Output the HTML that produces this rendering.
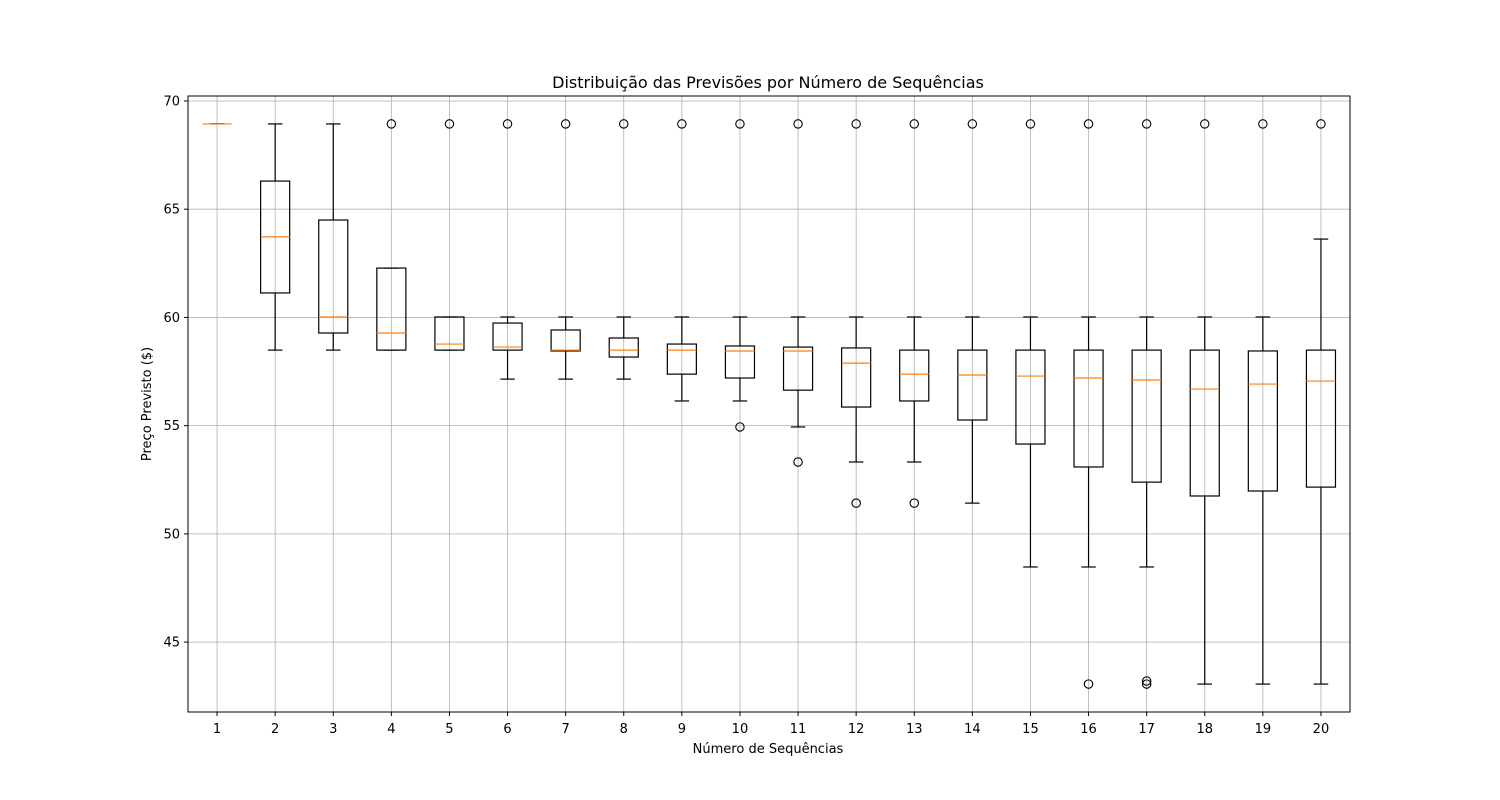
<!DOCTYPE html>
<html><head><meta charset="utf-8"><style>
html,body{margin:0;padding:0;background:#fff;}
svg{display:block;font-family:"DejaVu Sans","Liberation Sans",sans-serif;}
</style></head><body>
<svg id="chart" width="1500" height="800" viewBox="0 0 1500 800" xmlns="http://www.w3.org/2000/svg"></svg>
<script>
const categories = [1,2,3,4,5,6,7,8,9,10,11,12,13,14,15,16,17,18,19,20];
const whiskerLow = [68.94,58.49,58.49,58.49,58.49,57.15,57.15,57.15,56.14,56.14,54.94,53.32,53.32,51.42,48.47,48.47,48.47,43.06,43.06,43.06];
const q1Values   = [68.94,61.13,59.28,58.49,58.49,58.49,58.45,58.17,57.38,57.20,56.64,55.86,56.14,55.26,54.15,53.09,52.39,51.75,51.98,52.16];
const medians    = [68.94,63.72,60.02,59.28,58.77,58.63,58.49,58.49,58.49,58.45,58.45,57.89,57.38,57.34,57.29,57.20,57.11,56.69,56.92,57.06];
const q3Values   = [68.94,66.30,64.50,62.28,60.02,59.74,59.42,59.05,58.77,58.68,58.63,58.59,58.49,58.49,58.49,58.49,58.49,58.49,58.45,58.49];
const whiskerHigh= [68.94,68.94,68.94,62.28,60.02,60.02,60.02,60.02,60.02,60.02,60.02,60.02,60.02,60.02,60.02,60.02,60.02,60.02,60.02,63.62];
const fliers = [[],[],[],[68.94],[68.94],[68.94],[68.94],[68.94],[68.94],[68.94,54.94],[68.94,53.32],[68.94,51.42],[68.94,51.42],[68.94],[68.94],[68.94,43.06],[68.94,43.06,43.2],[68.94],[68.94],[68.94]];
const yTicks = [45,50,55,60,65,70];

const L=188,R=1350,T=96,B=712;
const yMin=41.77,yMax=70.23;
const xs=v=>L+(v-0.5)/20*(R-L);
const ys=v=>B-(v-yMin)/(yMax-yMin)*(B-T);
const svg=document.getElementById('chart');
const NS='http://www.w3.org/2000/svg';
function mk(tag,attrs,parent){const e=document.createElementNS(NS,tag);for(const k in attrs)e.setAttribute(k,attrs[k]);(parent||svg).appendChild(e);return e;}

// grid
yTicks.forEach(t=>{const l=mk('line',{x1:L,x2:R,y1:ys(t),y2:ys(t),stroke:'#b0b0b0','stroke-width':0.8});

});
categories.forEach(c=>{const l=mk('line',{x1:xs(c),x2:xs(c),y1:T,y2:B,stroke:'#b0b0b0','stroke-width':0.8});

});

// boxes
const hw=(R-L)/20*0.25, cw=(R-L)/20*0.125;
categories.forEach((c,i)=>{
 const g=mk('g',{});
 
 
 const x=xs(c);
 mk('line',{x1:x,x2:x,y1:ys(q1Values[i]),y2:ys(whiskerLow[i]),stroke:'#000','stroke-width':1.2},g);
 mk('line',{x1:x,x2:x,y1:ys(q3Values[i]),y2:ys(whiskerHigh[i]),stroke:'#000','stroke-width':1.2},g);
 mk('line',{x1:x-cw,x2:x+cw,y1:ys(whiskerLow[i]),y2:ys(whiskerLow[i]),stroke:'#000','stroke-width':1.2},g);
 mk('line',{x1:x-cw,x2:x+cw,y1:ys(whiskerHigh[i]),y2:ys(whiskerHigh[i]),stroke:'#000','stroke-width':1.2},g);
 mk('rect',{x:x-hw,y:ys(q3Values[i]),width:2*hw,height:Math.max(0,ys(q1Values[i])-ys(q3Values[i])),fill:'none',stroke:'#000','stroke-width':1.2},g);
 mk('line',{x1:x-hw,x2:x+hw,y1:ys(medians[i]),y2:ys(medians[i]),stroke:'#ff7f0e','stroke-width':1.2},g);
 fliers[i].forEach(f=>{const ci=mk('circle',{cx:x,cy:ys(f),r:4.2,fill:'none',stroke:'#000','stroke-width':1.1},g);
 
 });
});

// frame
const fr=mk('rect',{x:L,y:T,width:R-L,height:B-T,fill:'none',stroke:'#000','stroke-width':1});



// ticks
yTicks.forEach(t=>{mk('line',{x1:L-4,x2:L,y1:ys(t),y2:ys(t),stroke:'#000'});
 const tx=mk('text',{x:L-8,y:ys(t)+4.5,'text-anchor':'end','font-size':13});tx.textContent=t;
 
 });
categories.forEach(c=>{mk('line',{x1:xs(c),x2:xs(c),y1:B,y2:B+4,stroke:'#000'});
 const tx=mk('text',{x:xs(c),y:B+21,'text-anchor':'middle','font-size':13});tx.textContent=c;
 
 });
</script>
<svg style="position:absolute;left:0;top:0" width="1500" height="800">
<text x="768" y="88" text-anchor="middle" font-size="16" font-family="DejaVu Sans, Liberation Sans, sans-serif">Distribuição das Previsões por Número de Sequências</text>
<text x="768" y="753" text-anchor="middle" font-size="13" font-family="DejaVu Sans, Liberation Sans, sans-serif">Número de Sequências</text>
<text transform="translate(151,404) rotate(-90)" text-anchor="middle" font-size="13" font-family="DejaVu Sans, Liberation Sans, sans-serif">Preço Previsto ($)</text>
</svg>
</body></html>
